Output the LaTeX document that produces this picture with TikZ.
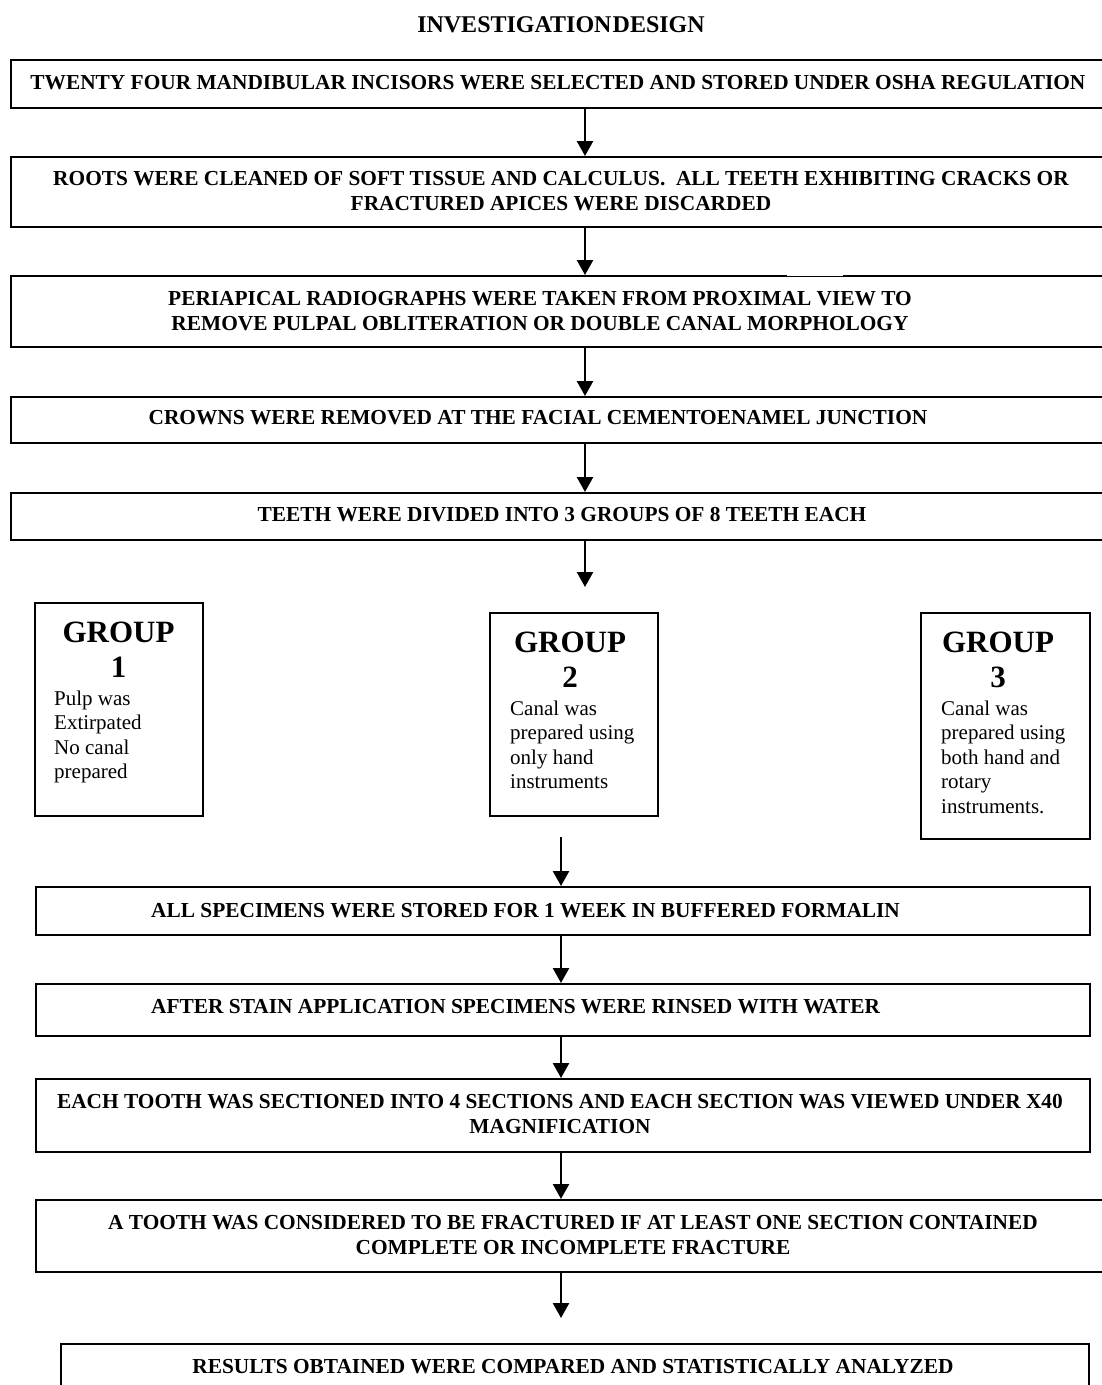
\documentclass[tikz,border=0pt]{standalone}
\usepackage{fontspec}
\setmainfont{Liberation Serif}
\usetikzlibrary{arrows.meta}
\begin{document}
\begin{tikzpicture}[x=1pt,y=-1pt,
  box/.style={draw=black, line width=2pt, inner sep=0pt, anchor=north west, fill=none},
  btext/.style={font=\bfseries\fontsize{21.35}{24.5}\selectfont, align=center, inner sep=0pt},
  ltext/.style={font=\bfseries\fontsize{21.35}{24.5}\selectfont, align=left, inner sep=0pt, anchor=west},
  gtitle/.style={font=\bfseries\fontsize{31}{35}\selectfont, align=center, inner sep=0pt, anchor=north},
  gbody/.style={font=\fontsize{21}{24.4}\selectfont, align=left, inner sep=0pt, anchor=north west},
  arr/.style={line width=2.5pt, -{Triangle[width=16pt,length=15pt]}}]
\clip (0,0) rectangle (1102,1385);
\fill[white] (0,0) rectangle (1102,1385);

% title
\node[btext, font=\bfseries\fontsize{24}{28}\selectfont] (title) at (561,25) {INVESTIGATION\hspace{0.05em}DESIGN};

% main step boxes
\node[box, minimum width=1110, minimum height=48] (b1) at (10,59) {};
\node[btext] (t1) at (558,83) {TWENTY FOUR MANDIBULAR INCISORS WERE SELECTED AND STORED UNDER OSHA REGULATION};

\node[box, minimum width=1110, minimum height=70] (b2) at (10,156) {};
\node[btext] (t2) at (561,191) {ROOTS WERE CLEANED OF SOFT TISSUE AND CALCULUS.\ \ ALL TEETH EXHIBITING CRACKS OR\\FRACTURED APICES WERE DISCARDED};

\node[box, minimum width=1110, minimum height=71] (b3) at (10,275) {};
\draw[white, line width=1pt] (787,275.6) -- (843,275.6);
\node[btext] (t3) at (540,311) {PERIAPICAL RADIOGRAPHS WERE TAKEN FROM PROXIMAL VIEW TO\\REMOVE PULPAL OBLITERATION OR DOUBLE CANAL MORPHOLOGY};

\node[box, minimum width=1110, minimum height=46] (b4) at (10,396) {};
\node[btext] (t4) at (538,418) {CROWNS WERE REMOVED AT THE FACIAL CEMENTOENAMEL JUNCTION};

\node[box, minimum width=1110, minimum height=47] (b5) at (10,492) {};
\node[btext] (t5) at (562,515) {TEETH WERE DIVIDED INTO 3 GROUPS OF 8 TEETH EACH};

% groups
\node[box, minimum width=168, minimum height=213] (g1) at (34,602) {};
\node[gtitle] (g1t) at (118.5,622) {GROUP\\1};
\node[gbody] (g1b) at (54,690.5) {Pulp was\\Extirpated\\No canal\\prepared};

\node[box, minimum width=168, minimum height=203] (g2) at (489,612) {};
\node[gtitle] (g2t) at (570,632) {GROUP\\2};
\node[gbody] (g2b) at (510,700.7) {Canal was\\prepared using\\only hand\\instruments};

\node[box, minimum width=169, minimum height=226] (g3) at (920,612) {};
\node[gtitle] (g3t) at (998,632) {GROUP\\3};
\node[gbody] (g3b) at (941,700.7) {Canal was\\prepared using\\both hand and\\rotary\\instruments.};

% lower boxes
\node[box, minimum width=1054, minimum height=48] (b6) at (35,886) {};
\node[ltext] (t6) at (151,911) {ALL SPECIMENS WERE STORED FOR 1 WEEK IN BUFFERED FORMALIN};

\node[box, minimum width=1054, minimum height=52] (b7) at (35,983) {};
\node[ltext] (t7) at (151,1007) {AFTER STAIN APPLICATION SPECIMENS WERE RINSED WITH WATER};

\node[box, minimum width=1054, minimum height=73] (b8) at (35,1078) {};
\node[btext] (t8) at (560,1114) {EACH TOOTH WAS SECTIONED INTO 4 SECTIONS AND EACH SECTION WAS VIEWED UNDER X40\\MAGNIFICATION};

\node[box, minimum width=1090, minimum height=72] (b9) at (35,1199) {};
\node[btext] (t9) at (573,1235) {A TOOTH WAS CONSIDERED TO BE FRACTURED IF AT LEAST ONE SECTION CONTAINED\\COMPLETE OR INCOMPLETE FRACTURE};

\node[box, minimum width=1028, minimum height=80] (b10) at (60,1343) {};
\node[btext] (t10) at (573,1367) {RESULTS OBTAINED WERE COMPARED AND STATISTICALLY ANALYZED};

% connectors
\coordinate (axA) at (585,0);
\coordinate (axB) at (561,0);
\coordinate (e5) at (585,587);
\coordinate (s6) at (561,837);
\coordinate (e10) at (561,1318);
\draw[arr] (b1.south -| axA) -- (b2.north -| axA);
\draw[arr] (b2.south -| axA) -- (b3.north -| axA);
\draw[arr] (b3.south -| axA) -- (b4.north -| axA);
\draw[arr] (b4.south -| axA) -- (b5.north -| axA);
\draw[arr] (b5.south -| axA) -- (e5);
\draw[arr] (s6) -- (b6.north -| axB);
\draw[arr] (b6.south -| axB) -- (b7.north -| axB);
\draw[arr] (b7.south -| axB) -- (b8.north -| axB);
\draw[arr] (b8.south -| axB) -- (b9.north -| axB);
\draw[arr] (b9.south -| axB) -- (e10);
\end{tikzpicture}
\end{document}
